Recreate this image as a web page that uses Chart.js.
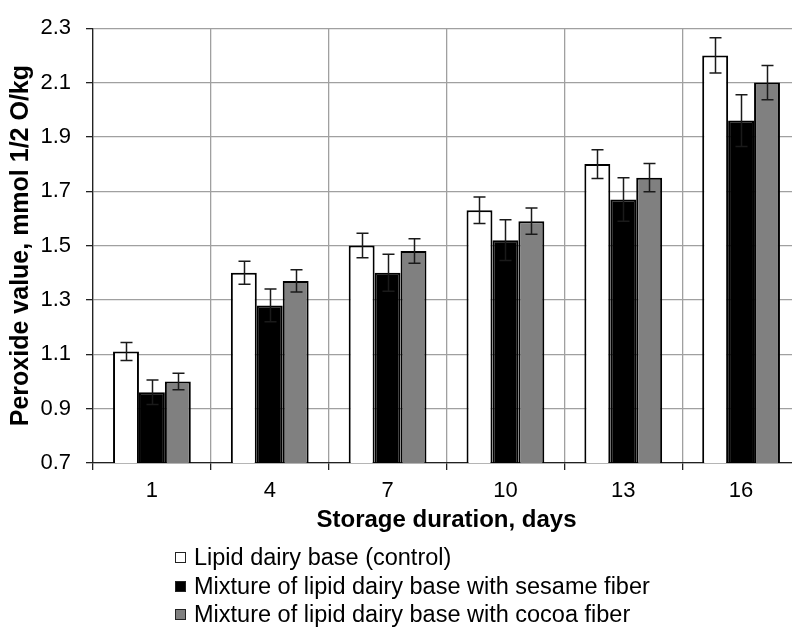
<!DOCTYPE html>
<html>
<head>
<meta charset="utf-8">
<script src="https://cdn.jsdelivr.net/npm/chart.js@4"></script>
<style>
  html, body { margin: 0; padding: 0; background: #fff; overflow: hidden; width: 792px; height: 627px; }
  #wrap { position: relative; width: 792px; height: 627px; overflow: hidden; }
  #chart { position: absolute; left: 0; top: 0; }
  #legend { position: absolute; left: 175px; top: 543px; font-family: "Liberation Sans", Arial, sans-serif; font-size: 23.5px; color: #000; }
  .item { height: 28.7px; display: flex; align-items: center; white-space: nowrap; }
  .box { width: 9px; height: 9px; border: 1.5px solid #222; margin-right: 8px; flex: none; }
</style>
</head>
<body>
<div id="wrap">
  <canvas id="chart" width="800" height="627"></canvas>
  <div id="legend"></div>
</div>
<script>
// Storage duration (days)
const days = ['1', '4', '7', '10', '13', '16'];

// Series names
const seriesNames = [
  'Lipid dairy base (control)',
  'Mixture of lipid dairy base with sesame fiber',
  'Mixture of lipid dairy base with cocoa fiber'
];

// Peroxide value, mmol 1/2 O/kg
const controlValues = [1.11, 1.40, 1.50, 1.63, 1.80, 2.20];
const sesameValues  = [0.96, 1.28, 1.40, 1.52, 1.67, 1.96];
const cocoaValues   = [1.00, 1.37, 1.48, 1.59, 1.75, 2.10];

// Error bar half-widths
const controlErrors = [0.033, 0.042, 0.045, 0.049, 0.053, 0.065];
const sesameErrors  = [0.045, 0.060, 0.068, 0.075, 0.080, 0.095];
const cocoaErrors   = [0.030, 0.041, 0.045, 0.048, 0.052, 0.063];

// Y axis ticks
const yTicks = [0.7, 0.9, 1.1, 1.3, 1.5, 1.7, 1.9, 2.1, 2.3];

const fillColors = ['#ffffff', '#000000', '#808080'];
const FONT = '"Liberation Sans", Arial, sans-serif';

// Draws symmetric error bars with caps over each bar
const errorBars = {
  id: 'errorBars',
  afterDatasetsDraw(chart) {
    const ctx = chart.ctx;
    const y = chart.scales.y;
    ctx.save();
    ctx.strokeStyle = '#1a1a1a';
    ctx.lineWidth = 1.5;
    chart.data.datasets.forEach((ds, di) => {
      const meta = chart.getDatasetMeta(di);
      meta.data.forEach((bar, i) => {
        const v = ds.data[i];
        const e = ds.errors[i];
        const x = Math.round(bar.x) + 0.5;
        const yt = y.getPixelForValue(v + e);
        const yb = y.getPixelForValue(v - e);
        const cap = 6;
        ctx.beginPath();
        ctx.moveTo(x, yt); ctx.lineTo(x, yb);
        ctx.moveTo(x - cap, yt); ctx.lineTo(x + cap, yt);
        ctx.moveTo(x - cap, yb); ctx.lineTo(x + cap, yb);
        ctx.stroke();
      });
    });
    ctx.restore();
  }
};

const datasets = [controlValues, sesameValues, cocoaValues].map((vals, k) => ({
  label: seriesNames[k],
  data: vals,
  errors: [controlErrors, sesameErrors, cocoaErrors][k],
  backgroundColor: fillColors[k],
  borderColor: '#000000',
  borderWidth: 2,
  borderSkipped: 'start',
  categoryPercentage: 0.66,
  barPercentage: 1.0
}));

const chart = new Chart(document.getElementById('chart'), {
  type: 'bar',
  data: { labels: days, datasets },
  plugins: [errorBars],
  options: {
    responsive: false,
    animation: false,
    devicePixelRatio: 1,
    layout: { padding: { left: 0, top: 23, right: 0, bottom: 92 } },
    plugins: { legend: { display: false }, tooltip: { enabled: false } },
    scales: {
      x: {
        offset: true,
        grid: { offset: true, color: '#a0a0a0', lineWidth: 1.3, tickLength: 7, tickColor: '#222', tickWidth: 1.3 },
        border: { color: '#222', width: 1.3 },
        ticks: { color: '#000', font: { family: FONT, size: 22 }, padding: 8 },
        title: { display: true, text: 'Storage duration, days', color: '#000', font: { family: FONT, size: 24, weight: 'bold' }, padding: 0 },
        afterFit(scale) { scale.height = 72; }
      },
      y: {
        min: 0.7,
        max: 2.3,
        afterBuildTicks(scale) { scale.ticks = yTicks.map(v => ({ value: v })); },
        grid: { color: '#a0a0a0', lineWidth: 1.3, tickLength: 7, tickColor: '#222', tickWidth: 1.3 },
        border: { color: '#222', width: 1.3 },
        ticks: { color: '#000', font: { family: FONT, size: 22 }, padding: 15, callback: v => Number(v).toFixed(1) },
        title: { display: true, text: 'Peroxide value, mmol 1/2 O/kg', color: '#000', font: { family: FONT, size: 25, weight: 'bold' }, padding: { top: 6, bottom: 0 } },
        afterFit(scale) { scale.width = 93; }
      }
    }
  }
});

// Legend built from the chart's datasets, one entry per row
const legend = document.getElementById('legend');
chart.data.datasets.forEach(ds => {
  const row = document.createElement('div');
  row.className = 'item';
  const box = document.createElement('span');
  box.className = 'box';
  box.style.background = ds.backgroundColor;
  const txt = document.createElement('span');
  txt.textContent = ds.label;
  row.appendChild(box);
  row.appendChild(txt);
  legend.appendChild(row);
});
</script>
</body>
</html>
